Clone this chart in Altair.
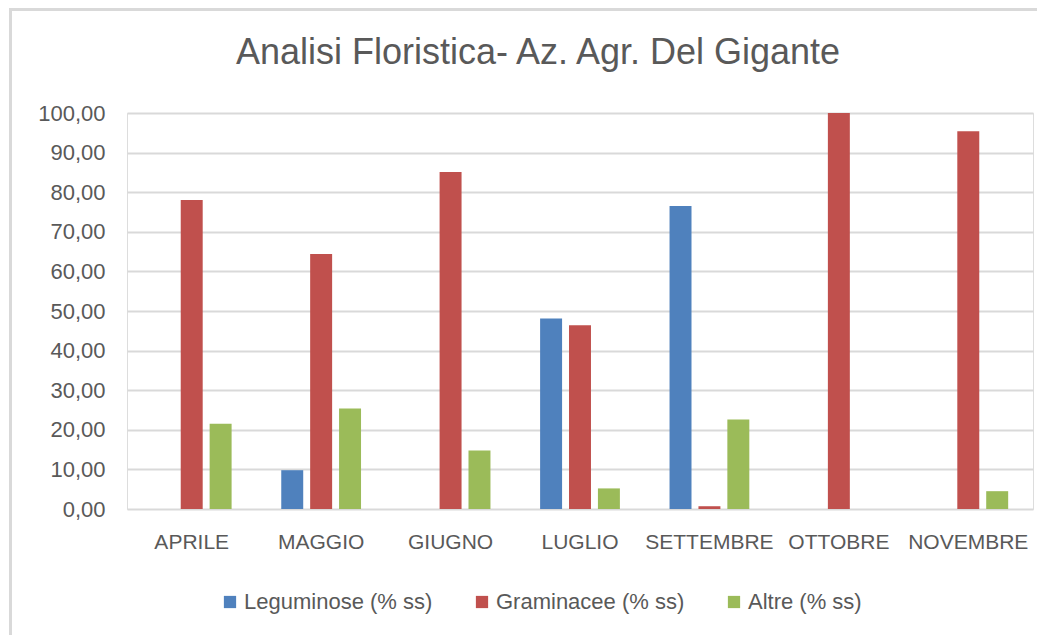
import altair as alt
import pandas as pd

mesi = ["APRILE", "MAGGIO", "GIUGNO", "LUGLIO", "SETTEMBRE", "OTTOBRE", "NOVEMBRE"]
serie = ["Leguminose (% ss)", "Graminacee (% ss)", "Altre (% ss)"]
leguminose = [0.0, 9.8, 0.0, 48.1, 76.5, 0.0, 0.0]
graminacee = [78.0, 64.4, 85.1, 46.4, 0.7, 100.0, 95.4]
altre = [21.5, 25.4, 14.8, 5.2, 22.6, 0.0, 4.5]
colori = ["#4F81BD", "#C0504D", "#9BBB59"]
y_ticks = list(range(0, 101, 10))
titolo = "Analisi Floristica- Az. Agr. Del Gigante"

rows = []
for nome, valori in zip(serie, [leguminose, graminacee, altre]):
    for m, v in zip(mesi, valori):
        rows.append({"Mese": m, "Serie": nome, "Valore": v})
df = pd.DataFrame(rows)

TXT = "#595959"
GRID = "#D9D9D9"
FONT = "Liberation Sans"

bars = alt.Chart(df).mark_bar().encode(
    x=alt.X("Mese:N", sort=mesi, title=None,
            scale=alt.Scale(paddingInner=0.33, paddingOuter=0.165),
            axis=alt.Axis(labelAngle=0, domain=False, ticks=False, labelPadding=22,
                          labelFontSize=21, labelColor=TXT, labelFont="Liberation Sans Narrow, Liberation Sans")),
    xOffset=alt.XOffset("Serie:N", sort=serie,
                        scale=alt.Scale(paddingInner=0.24, paddingOuter=0.12)),
    y=alt.Y("Valore:Q", title=None,
            scale=alt.Scale(domain=[0, 100], nice=False),
            axis=alt.Axis(values=y_ticks, domain=False, ticks=False, labelPadding=22,
                          labelFontSize=22, labelColor=TXT, labelFont=FONT,
                          gridColor=GRID, gridWidth=2,
                          labelExpr="replace(format(datum.value, '.2f'), '.', ',')")),
    color=alt.Color("Serie:N", sort=serie, title=None,
                    scale=alt.Scale(domain=serie, range=colori),
                    legend=alt.Legend(orient="none", direction="horizontal",
                                      legendX=92, legendY=478,
                                      symbolType="square", symbolSize=150,
                                      symbolStrokeWidth=0, symbolOpacity=1,
                                      labelFontSize=22, labelFont=FONT, labelColor=TXT,
                                      labelOffset=3, columnPadding=38,
                                      labelLimit=400)),
)

frame_df = pd.DataFrame({"k": [0]})
frame_left = alt.Chart(frame_df).mark_rect(color=GRID).encode(
    x=alt.value(-118), x2=alt.value(-115), y=alt.value(-105), y2=alt.value(540))
frame_top = alt.Chart(frame_df).mark_rect(color=GRID).encode(
    x=alt.value(-118), x2=alt.value(925), y=alt.value(-105), y2=alt.value(-102))

chart = alt.layer(frame_left, frame_top, bars).properties(
    width=906, height=396,
    title=alt.TitleParams(titolo, fontSize=36, font=FONT, color=TXT, fontWeight="normal",
                          anchor="middle", dx=-42, offset=-92, baseline="alphabetic"),
    autosize=alt.AutoSizeParams(type="none"),
    padding={"left": 119, "top": 105, "right": 4, "bottom": 126},
).configure_view(stroke=None).configure(background="white")

chart.save("out.html", embed_options={"renderer": "svg", "actions": False})
